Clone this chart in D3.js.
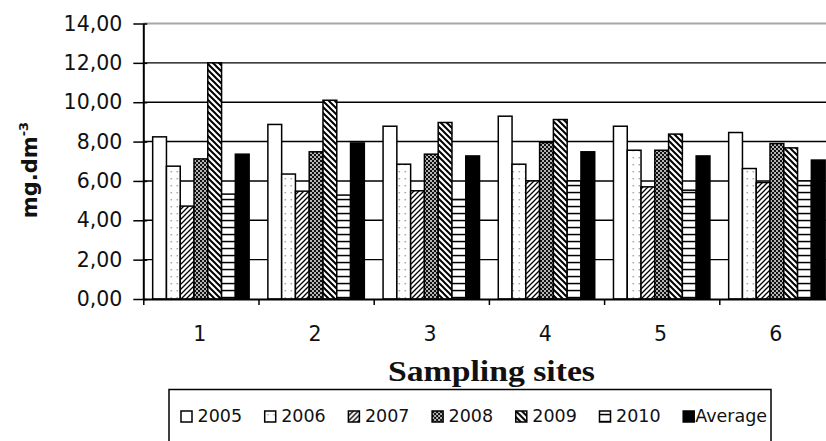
<!DOCTYPE html>
<html>
<head>
<meta charset="utf-8">
<script src="https://cdn.jsdelivr.net/npm/d3@7"></script>
<style>
  body { margin: 0; background: #fff; }
  svg { display: block; }
</style>
</head>
<body>
<svg id="chart" width="826" height="441"></svg>
<script>
// ---- data ----
const sites = ["1", "2", "3", "4", "5", "6"];
const years = ["2005", "2006", "2007", "2008", "2009", "2010", "Average"];
const v2005 = [8.24, 8.87, 8.78, 9.29, 8.78, 8.46];
const v2006 = [6.75, 6.35, 6.85, 6.85, 7.56, 6.63];
const v2007 = [4.72, 5.48, 5.50, 6.00, 5.70, 5.92];
const v2008 = [7.12, 7.48, 7.36, 7.95, 7.56, 7.90];
const v2009 = [12.00, 10.10, 8.97, 9.12, 8.38, 7.68];
const v2010 = [5.33, 5.28, 5.06, 6.00, 5.53, 6.00];
const vAverage = [7.36, 7.93, 7.27, 7.48, 7.27, 7.06];
const yTicks = [0, 2, 4, 6, 8, 10, 12, 14];
const yTickLabels = ["0,00", "2,00", "4,00", "6,00", "8,00", "10,00", "12,00", "14,00"];
const xTitle = "Sampling sites";
const yTitle = "mg.dm";
const yTitleSup = "-3";

const seriesValues = [v2005, v2006, v2007, v2008, v2009, v2010, vAverage];
const rows = [];
years.forEach((yr, s) => sites.forEach((site, i) => rows.push({ year: yr, site, value: seriesValues[s][i] })));

// ---- layout ----
const svg = d3.select("#chart");
const SANS = "'DejaVu Sans', Verdana, sans-serif";
const plotLeft = 143.3, step = 115.2;
const x0 = d3.scaleBand().domain(sites).range([plotLeft, plotLeft + step * sites.length]);
const x1 = d3.scaleBand().domain(years).range([0, x0.bandwidth()]).paddingInner(0).paddingOuter(0.68);
const y = d3.scaleLinear().domain([0, 14]).range([299, 23.5]);
const edge = d3.scaleLinear().domain([0, sites.length]).range(x0.range());

// ---- fill patterns ----
const defs = svg.append("defs");
function pattern(id, w, h) {
  const p = defs.append("pattern").attr("id", id).attr("patternUnits", "userSpaceOnUse")
    .attr("width", w).attr("height", h);
  return p;
}
let p = pattern("f2005", 4, 4);
p.append("rect").attr("width", 4).attr("height", 4).attr("fill", "#fff");

p = pattern("f2006", 6, 7);
p.append("rect").attr("width", 6).attr("height", 7).attr("fill", "#fff");
p.append("rect").attr("x", 2.5).attr("y", 3).attr("width", 1.6).attr("height", 1.4).attr("fill", "#a8a8a8");

p = pattern("f2007", 5, 5);
p.append("rect").attr("width", 5).attr("height", 5).attr("fill", "#fff");
p.append("path").attr("d", "M-1,6 L6,-1 M-1,1 L1,-1 M4,6 L6,4").attr("stroke", "#000").attr("stroke-width", 1.3);

p = pattern("f2008", 4, 4);
p.append("rect").attr("width", 4).attr("height", 4).attr("fill", "#b5b5b5");
p.append("rect").attr("width", 2).attr("height", 2).attr("fill", "#111");
p.append("rect").attr("x", 2).attr("y", 2).attr("width", 2).attr("height", 2).attr("fill", "#111");

p = pattern("f2009", 6, 6);
p.append("rect").attr("width", 6).attr("height", 6).attr("fill", "#fff");
p.append("path").attr("d", "M0,0 L6,6 M-1,5 L1,7 M5,-1 L7,1").attr("stroke", "#000").attr("stroke-width", 2);

p = pattern("f2010", 4, 7);
p.append("rect").attr("width", 4).attr("height", 7).attr("fill", "#fff");
p.append("rect").attr("y", 2.8).attr("width", 4).attr("height", 1.5).attr("fill", "#000");

const fillOf = yr => yr === "Average" ? "#000" : `url(#f${yr})`;

// ---- gridlines ----
const gridRight = x0.range()[1];
svg.append("g").selectAll("line").data(yTicks.filter(t => t > 0)).join("line")
  .attr("x1", plotLeft).attr("x2", gridRight)
  .attr("y1", d => y(d)).attr("y2", d => y(d))
  .attr("stroke", d => d === 14 ? "#a6a6a6" : "#000")
  .attr("stroke-width", d => d === 14 ? 2 : 1.4);

// ---- bars ----
svg.append("g").selectAll("rect").data(rows).join("rect")
  .attr("x", d => x0(d.site) + x1(d.year))
  .attr("y", d => y(d.value))
  .attr("width", x1.bandwidth())
  .attr("height", d => y(0) - y(d.value))
  .attr("fill", d => fillOf(d.year))
  .attr("stroke", "#000")
  .attr("stroke-width", 1.5);

// ---- y axis ----
const yAxis = svg.append("g").attr("transform", `translate(${plotLeft},0)`)
  .call(d3.axisLeft(y).tickValues(yTicks).tickFormat((d, i) => yTickLabels[i]).tickSizeInner(10).tickSizeOuter(0).tickPadding(11));
yAxis.select(".domain").attr("stroke", "#000").attr("stroke-width", 2);
yAxis.selectAll(".tick line").attr("x1", 4).attr("stroke", "#000").attr("stroke-width", 1.5);
yAxis.selectAll(".tick text").attr("font-family", SANS).attr("font-size", 20.5).attr("fill", "#111");

// ---- x axis ----
const xEdges = svg.append("g").attr("transform", `translate(0,${y(0)})`)
  .call(d3.axisBottom(edge).tickValues(d3.range(0, sites.length + 1)).tickFormat("").tickSizeInner(6).tickSizeOuter(0));
xEdges.select(".domain").attr("stroke", "#000").attr("stroke-width", 2);
xEdges.selectAll(".tick line").attr("stroke", "#000").attr("stroke-width", 1.5);

const xLabels = svg.append("g").attr("transform", `translate(0,${y(0)})`)
  .call(d3.axisBottom(x0).tickSize(0).tickPadding(27));
xLabels.select(".domain").remove();
xLabels.selectAll(".tick text").attr("font-family", SANS).attr("font-size", 20.5).attr("fill", "#111")
  .attr("dx", -1.2);

// ---- axis titles ----
svg.append("text")
  .attr("x", 491.5).attr("y", 380.5)
  .attr("text-anchor", "middle")
  .attr("font-family", "'Liberation Serif', 'Times New Roman', serif")
  .attr("font-weight", "bold").attr("font-size", 29)
  .attr("textLength", 207).attr("lengthAdjust", "spacingAndGlyphs")
  .attr("fill", "#111")
  .text(xTitle);

const yt = svg.append("text")
  .attr("transform", "translate(37,170) rotate(-90)")
  .attr("text-anchor", "middle")
  .attr("font-family", SANS).attr("font-weight", "bold").attr("font-size", 21)
  .attr("fill", "#111");
yt.append("tspan").text(yTitle);
yt.append("tspan").attr("font-size", 13).attr("dy", -9).text(yTitleSup);

// ---- legend ----
svg.append("rect")
  .attr("x", 169).attr("y", 389.5).attr("width", 602).attr("height", 80)
  .attr("fill", "none").attr("stroke", "#000").attr("stroke-width", 1.5);

const legend = svg.append("g").selectAll("g").data(years).join("g")
  .attr("transform", (d, i) => `translate(${181 + i * 83.7},411)`);
legend.append("rect")
  .attr("width", 11).attr("height", 11)
  .attr("fill", d => fillOf(d))
  .attr("stroke", "#000").attr("stroke-width", 1.5);
legend.append("text")
  .attr("x", d => d === "Average" ? 12 : 16.5).attr("y", 11.2)
  .attr("font-family", SANS).attr("font-size", 17.5).attr("fill", "#111")
  .text(d => d);
</script>
</body>
</html>
